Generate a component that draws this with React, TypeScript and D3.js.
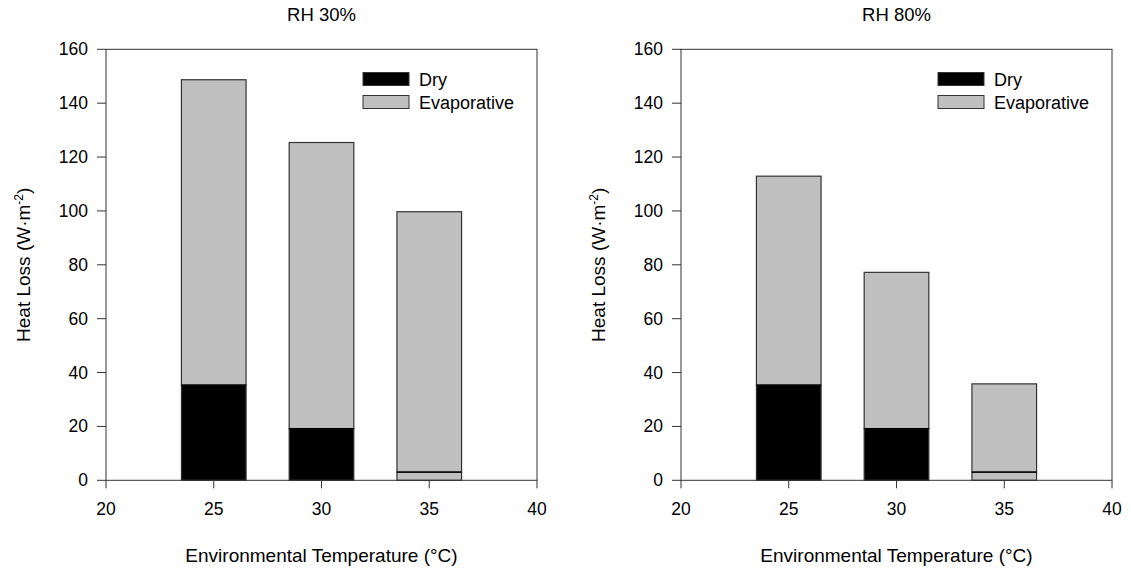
import React from "react";
import * as d3 from "d3";

// Environmental temperatures (°C) at which heat loss was partitioned
const temperatures = [25, 30, 35];
// Dry heat loss (W·m⁻²), same at both humidities
const dryRH30 = [35.3, 19.2, 3.0];
const dryRH80 = [35.3, 19.2, 3.0];
// Total heat loss (W·m⁻²) = dry + evaporative
const totalRH30 = [148.7, 125.4, 99.7];
const totalRH80 = [112.9, 77.2, 35.8];
// Fill used for the dry segment of each bar
const dryFills = ["#000000", "#000000", "#c0c0c0"];

const panelTitles = ["RH 30%", "RH 80%"];
const yTicks = [0, 20, 40, 60, 80, 100, 120, 140, 160];
const xTicks = [20, 25, 30, 35, 40];
const seriesNames = ["Dry", "Evaporative"];

const FONT = "'Liberation Sans', Arial, Helvetica, sans-serif";
const EVAP_FILL = "#c0c0c0";
const BAR_WIDTH = 3; // in °C units

type PanelProps = { x0: number; title: string; dry: number[]; total: number[] };

function Panel({ x0, title, dry, total }: PanelProps) {
  const left = x0;
  const right = x0 + 431;
  const top = 49.3;
  const bottom = 480.3;
  const x = d3.scaleLinear().domain([20, 40]).range([left, right]);
  const y = d3.scaleLinear().domain([0, 160]).range([bottom, top]);
  const cx = (left + right) / 2;
  const bw = x(BAR_WIDTH) - x(0);

  return (
    <g fontFamily={FONT} fill="#000">
      <text x={cx} y={21} textAnchor="middle" fontSize={18.5}>
        {title}
      </text>

      {/* bars */}
      {temperatures.map((t, i) => (
        <g key={t}>
          <rect
            x={x(t) - bw / 2}
            y={y(total[i])}
            width={bw}
            height={y(dry[i]) - y(total[i])}
            fill={EVAP_FILL}
            stroke="#333"
            strokeWidth={1.2}
          />
          <rect
            x={x(t) - bw / 2}
            y={y(dry[i])}
            width={bw}
            height={y(0) - y(dry[i])}
            fill={dryFills[i]}
            stroke="#333"
            strokeWidth={1.2}
          />
          <line
            x1={x(t) - bw / 2}
            x2={x(t) + bw / 2}
            y1={y(dry[i])}
            y2={y(dry[i])}
            stroke="#000"
            strokeWidth={1.2}
          />
        </g>
      ))}

      {/* frame */}
      <rect
        x={left}
        y={top}
        width={right - left}
        height={bottom - top}
        fill="none"
        stroke="#333"
        strokeWidth={1}
      />

      {/* y axis ticks */}
      {yTicks.map((v) => (
        <g key={v}>
          <line x1={left - 9} x2={left} y1={y(v)} y2={y(v)} stroke="#333" />
          <text x={left - 18} y={y(v) + 6} textAnchor="end" fontSize={17.5}>
            {v}
          </text>
        </g>
      ))}

      {/* x axis ticks */}
      {xTicks.map((v) => (
        <g key={v}>
          <line x1={x(v)} x2={x(v)} y1={bottom} y2={bottom + 8} stroke="#333" />
          <text x={x(v)} y={bottom + 35} textAnchor="middle" fontSize={17.5}>
            {v}
          </text>
        </g>
      ))}

      <text x={cx} y={562} textAnchor="middle" fontSize={19}>
        Environmental Temperature (°C)
      </text>

      <text
        transform={`translate(${left - 76},${(top + bottom) / 2}) rotate(-90)`}
        textAnchor="middle"
        fontSize={19}
      >
        Heat Loss (W·m
        <tspan dy={-7} fontSize={12}>-2</tspan>
        <tspan dy={7}>)</tspan>
      </text>

      {/* legend */}
      {seriesNames.map((name, i) => (
        <g key={name}>
          <rect
            x={left + 257}
            y={72.5 + i * 23}
            width={46}
            height={13}
            fill={i === 0 ? "#000" : EVAP_FILL}
            stroke="#333"
          />
          <text x={left + 313} y={85.5 + i * 23} fontSize={18}>
            {name}
          </text>
        </g>
      ))}
    </g>
  );
}

export default function App() {
  return (
    <svg
      width={1131}
      height={574}
      style={{ position: "absolute", left: 0, top: 0, background: "#fff" }}
    >
      <rect width={1131} height={574} fill="#fff" />
      <Panel x0={106} title={panelTitles[0]} dry={dryRH30} total={totalRH30} />
      <Panel x0={681} title={panelTitles[1]} dry={dryRH80} total={totalRH80} />
    </svg>
  );
}
